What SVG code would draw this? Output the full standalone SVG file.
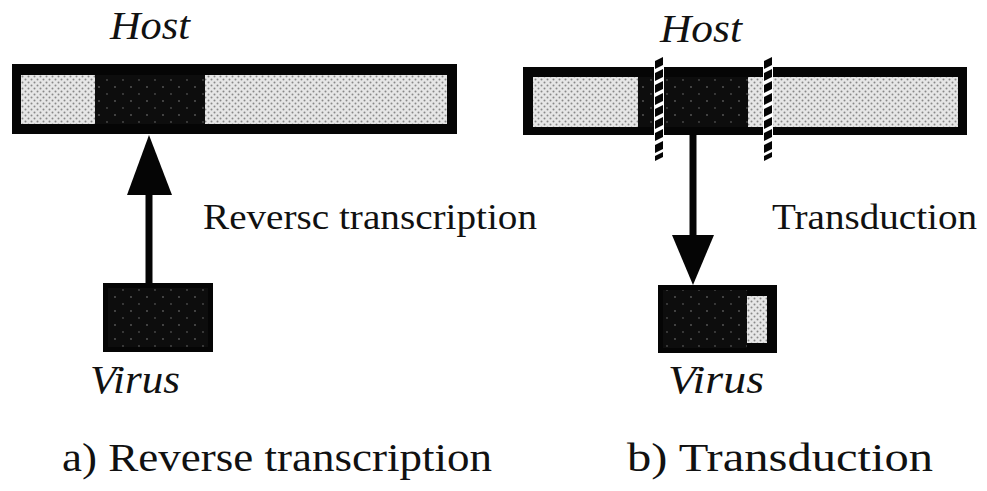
<svg xmlns="http://www.w3.org/2000/svg" width="987" height="491" viewBox="0 0 987 491">
  <defs>
    <!-- light stipple for host flanking regions -->
    <pattern id="lightDots" width="6" height="6" patternUnits="userSpaceOnUse">
      <rect width="6" height="6" fill="#e6e6e6"/>
      <circle cx="1.5" cy="1.5" r="1" fill="#888888"/>
      <circle cx="4.5" cy="4.5" r="1" fill="#888888"/>
    </pattern>
    <!-- dark stipple for the viral segment -->
    <pattern id="darkDots" width="16" height="14" patternUnits="userSpaceOnUse">
      <rect width="16" height="14" fill="#0d0d0d"/>
      <circle cx="3" cy="3" r="0.9" fill="#5a5a5a"/>
      <circle cx="11" cy="10" r="0.9" fill="#4a4a4a"/>
    </pattern>
    <style>
      .frame { fill: #050505; }
      .light { fill: url(#lightDots); }
      .dark { fill: url(#darkDots); }
      .shaft { stroke: #050505; stroke-width: 7; fill: none; }
      .head { fill: #050505; }
      .cut { fill: #050505; }
      .it { font-style: italic; font-size: 40px; fill: #111; }
      .lbl { font-size: 36px; fill: #111; }
      .cap { font-size: 40px; fill: #111; }
    </style>
  </defs>

  <rect width="987" height="491" fill="#ffffff"/>

  <g font-family="Liberation Serif, serif">
  <!-- a) host chromosome -->
  <g id="host-a">
    <rect class="frame" x="12" y="64" width="445" height="70"/>
    <rect class="light" x="21" y="75" width="74" height="49"/>
    <rect class="dark" x="95" y="75" width="110" height="49"/>
    <rect class="light" x="205" y="75" width="242" height="49"/>
    <text class="it" x="110" y="39" textLength="80" lengthAdjust="spacingAndGlyphs">Host</text>
  </g>

  <!-- a) virus -->
  <g id="virus-a">
    <rect class="frame" x="103" y="283" width="110" height="69"/>
    <rect class="dark" x="108" y="288" width="100" height="59"/>
    <text class="it" x="90" y="393" textLength="90" lengthAdjust="spacingAndGlyphs">Virus</text>
  </g>

  <!-- b) host chromosome with excision sites -->
  <g id="host-b">
    <rect class="frame" x="523" y="67" width="444" height="68"/>
    <rect class="light" x="533" y="77" width="105" height="50"/>
    <rect class="dark" x="638" y="77" width="110" height="50"/>
    <rect class="light" x="748" y="77" width="210" height="50"/>
    <text class="it" x="660" y="42" textLength="82" lengthAdjust="spacingAndGlyphs">Host</text>
  </g>

  <!-- b) excision marks -->
  <g id="cut-left">
    <rect x="654" y="58" width="10" height="102" fill="#ffffff"/>
    <g class="cut">
      <polygon points="655,61 663,57 663,65 655,69"/>
      <polygon points="655,73 663,69 663,77 655,81"/>
      <polygon points="655,85 663,81 663,89 655,93"/>
      <polygon points="655,97 663,93 663,101 655,105"/>
      <polygon points="655,109 663,105 663,113 655,117"/>
      <polygon points="655,121 663,117 663,125 655,129"/>
      <polygon points="655,133 663,129 663,137 655,141"/>
      <polygon points="655,145 663,141 663,149 655,153"/>
      <polygon points="655,156 663,152 663,157 655,161"/>
    </g>
  </g>
  <g id="cut-right">
    <rect x="763" y="58" width="10" height="102" fill="#ffffff"/>
    <g class="cut">
      <polygon points="764,61 772,57 772,65 764,69"/>
      <polygon points="764,73 772,69 772,77 764,81"/>
      <polygon points="764,85 772,81 772,89 764,93"/>
      <polygon points="764,97 772,93 772,101 764,105"/>
      <polygon points="764,109 772,105 772,113 764,117"/>
      <polygon points="764,121 772,117 772,125 764,129"/>
      <polygon points="764,133 772,129 772,137 764,141"/>
      <polygon points="764,145 772,141 772,149 764,153"/>
      <polygon points="764,156 772,152 772,157 764,161"/>
    </g>
  </g>

  <!-- b) virus carrying host fragment -->
  <g id="virus-b">
    <rect class="frame" x="658" y="285" width="119" height="68"/>
    <rect class="dark" x="663" y="290" width="84" height="58"/>
    <rect class="light" x="747" y="296" width="20" height="47"/>
    <text class="it" x="668" y="393" textLength="96" lengthAdjust="spacingAndGlyphs">Virus</text>
  </g>

  <!-- connectors -->
  <g id="connectors">
    <line class="shaft" x1="149" y1="283" x2="149" y2="190"/>
    <polygon class="head" points="149,135 127,195 172,195"/>
    <line class="shaft" x1="693" y1="135" x2="693" y2="240"/>
    <polygon class="head" points="672,235 714,235 693,285"/>
  </g>

  <!-- labels -->
  <g id="labels">
    <text class="lbl" x="203" y="229" textLength="334" lengthAdjust="spacingAndGlyphs">Reversc transcription</text>
    <text class="lbl" x="772" y="229" textLength="205" lengthAdjust="spacingAndGlyphs">Transduction</text>
    <text class="cap" x="62" y="471" textLength="430" lengthAdjust="spacingAndGlyphs">a) Reverse transcription</text>
    <text class="cap" x="627" y="471" textLength="306" lengthAdjust="spacingAndGlyphs">b) Transduction</text>
  </g>
  </g>
</svg>
